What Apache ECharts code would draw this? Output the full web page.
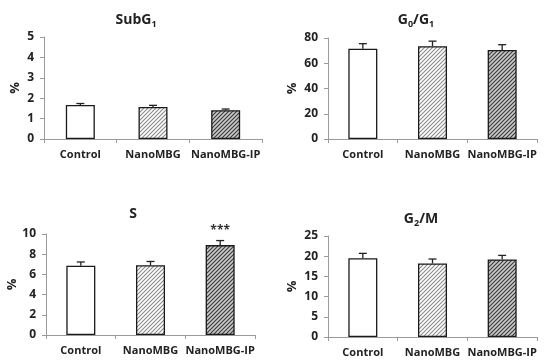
<!DOCTYPE html>
<html><head><meta charset="utf-8">
<script src="https://cdn.jsdelivr.net/npm/echarts@6/dist/echarts.min.js"></script>
<style>html,body{margin:0;padding:0;background:#fff}#c{width:550px;height:364px}</style>
</head><body><div id="c"></div>
<script>
const categories = ['Control', 'NanoMBG', 'NanoMBG-IP'];
const subG1 = [1.67, 1.57, 1.41];
const subG1Err = [0.07, 0.08, 0.06];
const g0g1 = [71.5, 73.5, 70.5];
const g0g1Err = [4.0, 4.0, 4.2];
const sPhase = [6.85, 6.9, 8.9];
const sPhaseErr = [0.38, 0.38, 0.45];
const g2m = [19.5, 18.2, 19.2];
const g2mErr = [1.2, 1.1, 1.0];
const sStars = ['', '', '***'];
const yMax = [5, 80, 10, 25];
const yInterval = [1, 20, 2, 5];

function makePattern(bg, fg) {
  const c = document.createElement('canvas');
  c.width = 4; c.height = 4;
  const ctx = c.getContext('2d');
  ctx.fillStyle = bg; ctx.fillRect(0, 0, 4, 4);
  ctx.strokeStyle = fg; ctx.lineWidth = 1.1;
  ctx.beginPath();
  ctx.moveTo(-1, 5); ctx.lineTo(5, -1);
  ctx.moveTo(-1, 1); ctx.lineTo(1, -1);
  ctx.moveTo(3, 5); ctx.lineTo(5, 3);
  ctx.stroke();
  return { image: c, repeat: 'repeat' };
}
const fills = ['#ffffff', makePattern('#ffffff', '#8a8a8a'), makePattern('#c8c8c8', '#3a3a3a')];

const FONT = '"Open Sans", "Liberation Sans", sans-serif';
const grids = [
  { left: 44, right: 288, top: 37, height: 102 },
  { left: 328, right: 13, top: 38, height: 101 },
  { left: 46, right: 295, top: 234, height: 101 },
  { left: 328, right: 13, top: 236, height: 101 }
];
const nameGaps = [22, 29, 27, 29];
const values = [subG1, g0g1, sPhase, g2m];
const errs = [subG1Err, g0g1Err, sPhaseErr, g2mErr];

const titles = [
  { text: '{b|SubG}{s|1}', left: 131, top: 6 },
  { text: '{b|G}{s|0}{b|/G}{s|1}', left: 411, top: 6 },
  { text: '{b|S}', left: 128, top: 202 },
  { text: '{b|G}{s|2}{b|/M}', left: 416, top: 205 }
];
const rich = {
  b: { fontSize: 14, fontWeight: 'bold', fontFamily: FONT, color: '#222' },
  s: { fontSize: 9, fontWeight: 'bold', fontFamily: FONT, color: '#222', padding: [9, 0, 0, 0] }
};

const xAxes = [], yAxes = [], series = [];
for (let i = 0; i < 4; i++) {
  xAxes.push({
    gridIndex: i, type: 'category', data: categories,
    axisLine: { lineStyle: { color: '#9a9a9a', width: 1 } },
    axisTick: { show: true, alignWithLabel: false, length: 4, lineStyle: { color: '#9a9a9a' } },
    axisLabel: { color: '#222', fontWeight: 'bold', fontSize: 11, fontFamily: FONT, margin: 10, interval: 0 }
  });
  yAxes.push({
    gridIndex: i, type: 'value', min: 0, max: yMax[i], interval: yInterval[i],
    name: '%', nameLocation: 'middle', nameGap: nameGaps[i], nameRotate: 90,
    nameTextStyle: { color: '#222', fontWeight: 'bold', fontSize: 13, fontFamily: FONT },
    axisLine: { show: true, lineStyle: { color: '#9a9a9a', width: 1 } },
    axisTick: { show: true, length: 4, lineStyle: { color: '#9a9a9a' } },
    splitLine: { show: false },
    axisLabel: { color: '#222', fontWeight: 'bold', fontSize: 12, fontFamily: FONT, margin: 10 }
  });
  series.push({
    type: 'bar', xAxisIndex: i, yAxisIndex: i, barWidth: 29, z: 2,
    data: values[i].map((v, k) => ({ value: v, itemStyle: { color: fills[k] } })),
    itemStyle: { borderColor: '#1a1a1a', borderWidth: 1.3 },
    label: i === 2 ? {
      show: true, position: 'top', distance: 9,
      formatter: p => sStars[p.dataIndex],
      color: '#333', fontSize: 12, fontWeight: 'bold', fontFamily: FONT
    } : { show: false },
    silent: true
  });
  const ev = errs[i];
  series.push({
    type: 'custom', xAxisIndex: i, yAxisIndex: i, z: 3, silent: true,
    data: values[i].map((v, k) => [k, v, v + ev[k]]),
    renderItem: function (params, api) {
      const x = api.coord([api.value(0), api.value(1)])[0];
      const y0 = api.coord([api.value(0), api.value(1)])[1];
      const y1 = api.coord([api.value(0), api.value(2)])[1];
      return {
        type: 'group', children: [
          { type: 'line', shape: { x1: x, y1: y0, x2: x, y2: y1 }, style: { stroke: '#222', lineWidth: 1.3 } },
          { type: 'line', shape: { x1: x - 4, y1: y1, x2: x + 4, y2: y1 }, style: { stroke: '#222', lineWidth: 1.3 } }
        ]
      };
    }
  });
}

const chart = echarts.init(document.getElementById('c'), null, { renderer: 'canvas' });
chart.setOption({
  animation: false,
  backgroundColor: '#fff',
  title: titles.map(t => ({ text: t.text, left: t.left, top: t.top, textAlign: 'center', textStyle: { rich: rich } })),
  grid: grids,
  xAxis: xAxes,
  yAxis: yAxes,
  series: series
});
</script></body></html>
